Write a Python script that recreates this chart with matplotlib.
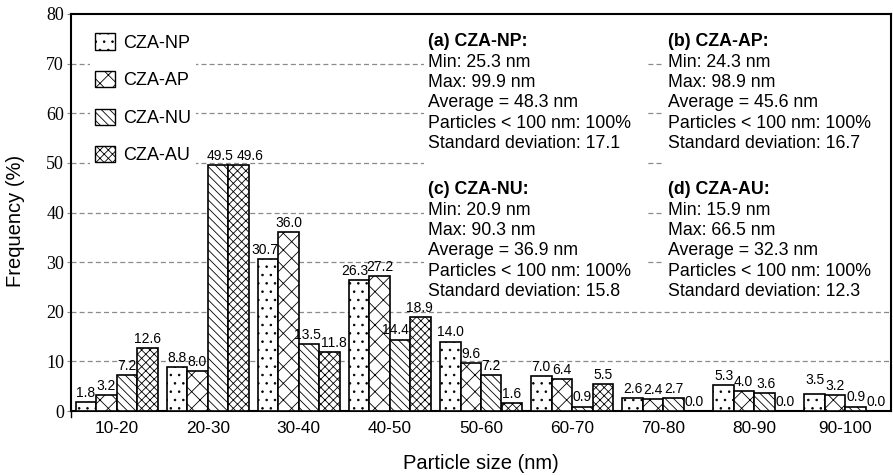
import matplotlib
matplotlib.use("Agg")
import matplotlib.pyplot as plt
from matplotlib.patches import Patch, Rectangle
from matplotlib.lines import Line2D
import numpy as np

plt.rcParams['hatch.linewidth'] = 0.6

categories = ["10-20", "20-30", "30-40", "40-50", "50-60", "60-70", "70-80", "80-90", "90-100"]
series_names = ["CZA-NP", "CZA-AP", "CZA-NU", "CZA-AU"]
np_vals = [1.8, 8.8, 30.7, 26.3, 14.0, 7.0, 2.6, 5.3, 3.5]
ap_vals = [3.2, 8.0, 36.0, 27.2, 9.6, 6.4, 2.4, 4.0, 3.2]
nu_vals = [7.2, 49.5, 13.5, 14.4, 7.2, 0.9, 2.7, 3.6, 0.9]
au_vals = [12.6, 49.6, 11.8, 18.9, 1.6, 5.5, 0.0, 0.0, 0.0]
y_ticks = [0, 10, 20, 30, 40, 50, 60, 70, 80]

stats_blocks = [
    ("(a) CZA-NP:", ["Min: 25.3 nm", "Max: 99.9 nm", "Average = 48.3 nm",
                     "Particles < 100 nm: 100%", "Standard deviation: 17.1"]),
    ("(b) CZA-AP:", ["Min: 24.3 nm", "Max: 98.9 nm", "Average = 45.6 nm",
                     "Particles < 100 nm: 100%", "Standard deviation: 16.7"]),
    ("(c) CZA-NU:", ["Min: 20.9 nm", "Max: 90.3 nm", "Average = 36.9 nm",
                     "Particles < 100 nm: 100%", "Standard deviation: 15.8"]),
    ("(d) CZA-AU:", ["Min: 15.9 nm", "Max: 66.5 nm", "Average = 32.3 nm",
                     "Particles < 100 nm: 100%", "Standard deviation: 12.3"]),
]

hatches = ["..", "xx", "\\\\\\\\", "xxxx"]
sans = "Liberation Sans"
serif = "Liberation Serif"

# nudges (in pixels) for value labels that would otherwise collide
label_nudge = {
    (1, 2): (2, 0), (1, 3): (12, 0),
    (2, 0): (-3, 0), (2, 2): (-2, 0), (2, 3): (4, 0),
    (3, 0): (-4, 0), (3, 2): (-5, 0), (3, 3): (-1, 0),
    (7, 1): (-1, 0), (7, 2): (1, 0),
    (8, 0): (0, 5),
}

fig = plt.figure(figsize=(8.93, 4.75), dpi=100)
ax = fig.add_axes([71 / 893, 64 / 475, 820 / 893, 397 / 475])

series = [np_vals, ap_vals, nu_vals, au_vals]
x = np.arange(len(categories))
w = 0.225
for i, vals in enumerate(series):
    pos = x + (i - 1.5) * w
    ax.bar(pos, vals, width=w, facecolor="white", edgecolor="black",
           linewidth=1.2, hatch=hatches[i], zorder=3)
    for j, (px, v) in enumerate(zip(pos, vals)):
        dx, dy = label_nudge.get((j, i), (0, 0))
        ax.annotate(f"{v:.1f}", (px, v), xytext=(dx * 0.72, 1.5 + dy * 0.72),
                    textcoords="offset points", ha="center", va="bottom",
                    fontsize=10, family=sans, zorder=5)

ax.set_xlim(-0.5, len(categories) - 0.5)
ax.set_ylim(0, 80)
ax.set_yticks(y_ticks)
ax.set_yticklabels([str(t) for t in y_ticks], family=serif, fontsize=13)
ax.set_xticks(x)
ax.set_xticklabels(categories, family=sans, fontsize=12.4)
ax.tick_params(axis="x", length=0, pad=7)
ax.tick_params(axis="y", length=3, width=0.8, color="#888888", pad=2)

for gy in y_ticks[1:-1]:
    ax.axhline(gy, color="#8a8a8a", linewidth=0.9, linestyle=(0, (4, 2.5)), zorder=0.5)

for s in ax.spines.values():
    s.set_linewidth(1.5)
# short extension of the left axis below the baseline
ax.add_line(Line2D([0, 0], [0, -6 / 397], transform=ax.transAxes,
                   color="black", linewidth=1.0, clip_on=False))

ax.set_ylabel("Frequency (%)", family=sans, fontsize=14.5)
ax.yaxis.set_label_coords(-0.056, 0.48)
ax.set_xlabel("Particle size (nm)", family=sans, fontsize=14.5, labelpad=13)

# white panels behind the statistics text
for left, right in [(424, 646), (664, 889)]:
    ax.add_patch(Rectangle(((left - 71) / 820, (411 - 300) / 397),
                           (right - left) / 820, (300 - 28) / 397,
                           transform=ax.transAxes, facecolor="white",
                           edgecolor="none", zorder=1))

col_x = [428, 668, 428, 668]
top_y = [42, 42, 190, 190]
line_h = 20.3
for (title, lines), cx, ty in zip(stats_blocks, col_x, top_y):
    fx = (cx - 71) / 820
    ax.text(fx, (411 - ty) / 397, title, transform=ax.transAxes, ha="left",
            va="center", fontsize=12.8, fontweight="bold", family=sans, zorder=6)
    for k, ln in enumerate(lines):
        yy = ty + (k + 1) * line_h
        ax.text(fx, (411 - yy) / 397, ln, transform=ax.transAxes, ha="left",
                va="center", fontsize=12.8, family=sans, zorder=6)

handles = [Patch(facecolor="white", edgecolor="black", linewidth=1.0, hatch=h)
           for h in hatches]
leg = ax.legend(handles, series_names, loc="upper left",
                bbox_to_anchor=((89.6 - 71) / 820, 1 - (28 - 14) / 397),
                prop={"family": sans, "size": 13}, frameon=True,
                handlelength=1.1, handleheight=1.0, labelspacing=1.07,
                handletextpad=0.45, borderpad=0.3, borderaxespad=0)
leg.get_frame().set_facecolor("white")
leg.get_frame().set_edgecolor("none")
leg.get_frame().set_alpha(1)
leg.set_zorder(6)

fig.savefig("out.png", dpi=100)
